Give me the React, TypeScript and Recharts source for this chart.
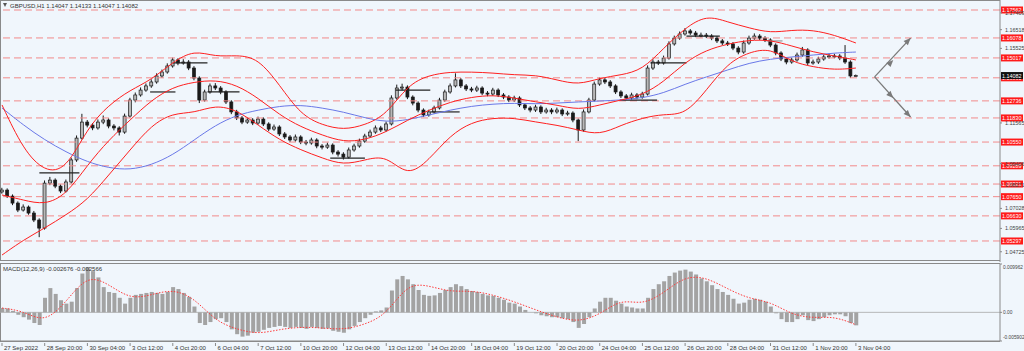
import React from "react";
import {
  ComposedChart,
  Bar,
  Line,
  XAxis,
  YAxis,
  ReferenceLine,
  ReferenceDot,
} from "recharts";

const FONT = "'Liberation Sans', Arial, sans-serif";

// ---------- price data (4-hour sampled candles, H1 chart 27 Sep - 3 Nov 2022) ----------
const CANDLE_STEP = 4; // hours per sampled candle
const firstOpen = 1.079;
const closes = [
  1.0800, 1.0768, 1.0731, 1.0694, 1.0710, 1.0678, 1.0641, 1.0598, 1.0837, 1.0853,
  1.0821, 1.0795, 1.0843, 1.0960, 1.1076, 1.1161, 1.1145, 1.1130, 1.1161, 1.1172,
  1.1140, 1.1130, 1.1108, 1.1193, 1.1278, 1.1305, 1.1331, 1.1353, 1.1374, 1.1406,
  1.1427, 1.1459, 1.1491, 1.1475, 1.1480, 1.1448, 1.1395, 1.1278, 1.1321, 1.1353,
  1.1342, 1.1321, 1.1268, 1.1215, 1.1183, 1.1161, 1.1172, 1.1156, 1.1177, 1.1151,
  1.1124, 1.1135, 1.1098, 1.1082, 1.1066, 1.1082, 1.1055, 1.1050, 1.1066, 1.1034,
  1.1028, 1.1039, 1.1002, 1.0991, 1.0975, 1.1013, 1.1034, 1.1060, 1.1087, 1.1108,
  1.1130, 1.1119, 1.1151, 1.1289, 1.1342, 1.1347, 1.1294, 1.1262, 1.1225, 1.1199,
  1.1215, 1.1236, 1.1278, 1.1321, 1.1353, 1.1385, 1.1353, 1.1337, 1.1331, 1.1342,
  1.1315, 1.1310, 1.1331, 1.1305, 1.1294, 1.1278, 1.1289, 1.1252, 1.1236, 1.1225,
  1.1241, 1.1215, 1.1225, 1.1215, 1.1225, 1.1204, 1.1209, 1.1172, 1.1119, 1.1215,
  1.1278, 1.1363, 1.1385, 1.1374, 1.1353, 1.1321, 1.1300, 1.1289, 1.1305, 1.1294,
  1.1310, 1.1448, 1.1480, 1.1475, 1.1501, 1.1576, 1.1607, 1.1629, 1.1645, 1.1634,
  1.1623, 1.1623, 1.1618, 1.1607, 1.1592, 1.1581, 1.1576, 1.1554, 1.1533, 1.1581,
  1.1607, 1.1618, 1.1607, 1.1597, 1.1570, 1.1528, 1.1496, 1.1480, 1.1491, 1.1517,
  1.1544, 1.1475, 1.1480, 1.1496, 1.1507, 1.1512, 1.1512, 1.1501, 1.1480, 1.1406,
  1.14082,
];
const highs = [
  1.0812, 1.0809, 1.0777, 1.0740, 1.0724, 1.0718, 1.0689, 1.0650, 1.0851, 1.0870,
  1.0862, 1.0830, 1.0856, 1.0972, 1.1090, 1.1205, 1.1172, 1.1156, 1.1175, 1.1196,
  1.1181, 1.1150, 1.1139, 1.1206, 1.1290, 1.1318, 1.1345, 1.1366, 1.1388, 1.1420,
  1.1440, 1.1473, 1.1503, 1.1500, 1.1495, 1.1490, 1.1458, 1.1404, 1.1333, 1.1366,
  1.1368, 1.1352, 1.1330, 1.1277, 1.1226, 1.1193, 1.1185, 1.1182, 1.1190, 1.1186,
  1.1160, 1.1148, 1.1144, 1.1108, 1.1092, 1.1095, 1.1091, 1.1066, 1.1078, 1.1075,
  1.1044, 1.1052, 1.1048, 1.1012, 1.1001, 1.1026, 1.1046, 1.1073, 1.1099, 1.1121,
  1.1143, 1.1141, 1.1164, 1.1303, 1.1360, 1.1365, 1.1356, 1.1303, 1.1271, 1.1234,
  1.1227, 1.1248, 1.1290, 1.1333, 1.1366, 1.1420, 1.1395, 1.1363, 1.1348, 1.1354,
  1.1351, 1.1326, 1.1343, 1.1340, 1.1315, 1.1304, 1.1301, 1.1298, 1.1262, 1.1246,
  1.1253, 1.1250, 1.1237, 1.1235, 1.1238, 1.1234, 1.1221, 1.1218, 1.1180, 1.1228,
  1.1290, 1.1376, 1.1398, 1.1396, 1.1384, 1.1362, 1.1330, 1.1310, 1.1317, 1.1315,
  1.1322, 1.1462, 1.1494, 1.1491, 1.1514, 1.1590, 1.1620, 1.1642, 1.1660, 1.1655,
  1.1645, 1.1636, 1.1634, 1.1628, 1.1617, 1.1602, 1.1592, 1.1586, 1.1564, 1.1594,
  1.1620, 1.1632, 1.1628, 1.1617, 1.1606, 1.1579, 1.1537, 1.1506, 1.1503, 1.1530,
  1.1560, 1.1553, 1.1493, 1.1508, 1.1519, 1.1525, 1.1524, 1.1522, 1.1570, 1.1489,
  1.14133,
];
const lows = [
  1.0781, 1.0758, 1.0720, 1.0683, 1.0686, 1.0669, 1.0630, 1.0550, 1.0590, 1.0826,
  1.0810, 1.0784, 1.0787, 1.0835, 1.0950, 1.1068, 1.1133, 1.1118, 1.1121, 1.1150,
  1.1128, 1.1117, 1.1090, 1.1099, 1.1185, 1.1266, 1.1296, 1.1322, 1.1343, 1.1365,
  1.1396, 1.1418, 1.1450, 1.1463, 1.1466, 1.1437, 1.1383, 1.1262, 1.1270, 1.1312,
  1.1331, 1.1309, 1.1257, 1.1203, 1.1172, 1.1150, 1.1152, 1.1145, 1.1147, 1.1140,
  1.1113, 1.1115, 1.1087, 1.1071, 1.1055, 1.1057, 1.1044, 1.1038, 1.1041, 1.1022,
  1.1016, 1.1019, 1.0990, 1.0978, 1.0962, 1.0968, 1.1004, 1.1025, 1.1051, 1.1078,
  1.1099, 1.1108, 1.1110, 1.1143, 1.1280, 1.1330, 1.1283, 1.1250, 1.1213, 1.1188,
  1.1190, 1.1206, 1.1228, 1.1269, 1.1312, 1.1345, 1.1342, 1.1326, 1.1320, 1.1321,
  1.1304, 1.1298, 1.1301, 1.1294, 1.1283, 1.1267, 1.1268, 1.1241, 1.1225, 1.1213,
  1.1215, 1.1204, 1.1206, 1.1203, 1.1206, 1.1193, 1.1195, 1.1160, 1.1060, 1.1110,
  1.1207, 1.1270, 1.1354, 1.1363, 1.1342, 1.1310, 1.1289, 1.1278, 1.1280, 1.1283,
  1.1285, 1.1302, 1.1438, 1.1464, 1.1466, 1.1493, 1.1567, 1.1598, 1.1620, 1.1624,
  1.1612, 1.1611, 1.1607, 1.1596, 1.1581, 1.1570, 1.1565, 1.1543, 1.1521, 1.1524,
  1.1572, 1.1598, 1.1596, 1.1586, 1.1559, 1.1516, 1.1485, 1.1468, 1.1471, 1.1482,
  1.1508, 1.1463, 1.1466, 1.1470, 1.1487, 1.1498, 1.1500, 1.1490, 1.1470, 1.1395,
  1.14047,
];

// ---------- indicator lines (sampled every 16 hours) ----------
const BAND_STEP = 16;
const bbUpper = [
  1.1252, 1.1013, 1.0896, 1.0907, 1.1130, 1.1252, 1.1331, 1.1385, 1.1480, 1.1544,
  1.1507, 1.1517, 1.1501, 1.1358, 1.1199, 1.1145, 1.1119, 1.1145, 1.1199, 1.1358,
  1.1411, 1.1427, 1.1427, 1.1422, 1.1411, 1.1411, 1.1385, 1.1358, 1.1395, 1.1411,
  1.1438, 1.1554, 1.1661, 1.1730, 1.1692, 1.1661, 1.1634, 1.1650, 1.1650, 1.1623,
  1.1581,
];
const bbMiddle = [
  1.0774, 1.0747, 1.0721, 1.0774, 1.0933, 1.1066, 1.1172, 1.1278, 1.1347, 1.1374,
  1.1385, 1.1358, 1.1289, 1.1199, 1.1135, 1.1092, 1.1055, 1.1066, 1.1108, 1.1172,
  1.1225, 1.1268, 1.1294, 1.1305, 1.1289, 1.1268, 1.1252, 1.1225, 1.1252, 1.1278,
  1.1305, 1.1374, 1.1480, 1.1544, 1.1576, 1.1597, 1.1597, 1.1565, 1.1533, 1.1512,
  1.1491,
];
const bbLower = [
  1.0455, 1.0535, 1.0598, 1.0668, 1.0747, 1.0880, 1.1013, 1.1145, 1.1209, 1.1209,
  1.1252, 1.1225, 1.1145, 1.1066, 1.1013, 1.0970, 1.0933, 1.0960, 1.0986, 1.0869,
  1.0960, 1.1092, 1.1161, 1.1183, 1.1183, 1.1161, 1.1145, 1.1119, 1.1092, 1.1145,
  1.1183, 1.1204, 1.1199, 1.1331, 1.1475, 1.1533, 1.1554, 1.1480, 1.1454, 1.1438,
  1.1448,
];
const slowMa = [
  1.1236, 1.1145, 1.1066, 1.1002, 1.0949, 1.0917, 1.0907, 1.0933, 1.0986, 1.1066,
  1.1145, 1.1199, 1.1225, 1.1246, 1.1252, 1.1236, 1.1215, 1.1183, 1.1161, 1.1172,
  1.1199, 1.1225, 1.1246, 1.1257, 1.1262, 1.1257, 1.1262, 1.1268, 1.1273, 1.1278,
  1.1289, 1.1315, 1.1363, 1.1401, 1.1438, 1.1475, 1.1496, 1.1507, 1.1517, 1.1528,
  1.1533,
];

// ---------- MACD(12,26,9) ----------
const macdHist = [
  0.0009, 0.0008, 0.0003, -0.0005, -0.0010, -0.0015, -0.0022, -0.0026, 0.0030, 0.0050,
  0.0038, 0.0025, 0.0018, 0.0022, 0.0050, 0.0080, 0.0093, 0.0085, 0.0072, 0.0052,
  0.0042, 0.0040, 0.0030, 0.0018, 0.0030, 0.0036, 0.0038, 0.0040, 0.0042, 0.0040,
  0.0038, 0.0042, 0.0052, 0.0048, 0.0040, 0.0032, 0.0012, -0.0022, -0.0026, -0.0020,
  -0.0014, -0.0012, -0.0020, -0.0035, -0.0045, -0.0050, -0.0048, -0.0042, -0.0040, -0.0036,
  -0.0032, -0.0030, -0.0028, -0.0030, -0.0032, -0.0030, -0.0032, -0.0034, -0.0030, -0.0032,
  -0.0034, -0.0033, -0.0038, -0.0040, -0.0042, -0.0035, -0.0028, -0.0020, -0.0012, -0.0005,
  0.0002, 0.0004, 0.0010, 0.0045, 0.0068, 0.0075, 0.0068, 0.0058, 0.0046, 0.0036,
  0.0034, 0.0035, 0.0040, 0.0046, 0.0052, 0.0058, 0.0054, 0.0048, 0.0044, 0.0042,
  0.0038, 0.0035, 0.0034, 0.0030, 0.0026, 0.0020, 0.0018, 0.0012, 0.0005, 0.0000,
  -0.0002, -0.0006, -0.0008, -0.0010, -0.0010, -0.0012, -0.0014, -0.0020, -0.0032, -0.0024,
  -0.0010, 0.0008, 0.0022, 0.0030, 0.0030, 0.0024, 0.0018, 0.0012, 0.0010, 0.0008,
  0.0008, 0.0030, 0.0048, 0.0058, 0.0064, 0.0075, 0.0082, 0.0086, 0.0088, 0.0084,
  0.0078, 0.0070, 0.0064, 0.0056, 0.0048, 0.0042, 0.0036, 0.0028, 0.0018, 0.0020,
  0.0026, 0.0028, 0.0026, 0.0022, 0.0012, -0.0002, -0.0014, -0.0020, -0.0020, -0.0014,
  -0.0006, -0.0016, -0.0018, -0.0014, -0.0010, -0.0006, -0.0004, -0.0004, -0.0008, -0.0022,
  -0.002676,
];
const macdSignal = [
  0.0009, 0.0003, -0.0022, 0.0021, 0.0078, 0.0058, 0.0027, 0.0036, 0.0048, 0.0030,
  -0.0018, -0.0035, -0.0045, -0.0035, -0.0030, -0.0032, -0.0036, -0.0025, -0.0005, 0.0060,
  0.0055, 0.0042, 0.0045, 0.0036, 0.0022, 0.0005, -0.0010, -0.0020, -0.0005, 0.0028,
  0.0015, 0.0040, 0.0075, 0.0072, 0.0048, 0.0028, 0.0022, -0.0005, -0.0012, -0.0008,
  -0.002566,
];

// ---------- levels, ticks, labels ----------
const levels = [
  1.17562, 1.16078, 1.15017, 1.13961, 1.12736, 1.1183, 1.1055, 1.09289, 1.08321, 1.0765,
  1.0663, 1.05297,
];
const levelText = [
  "1.17562", "1.16078", "1.15017", "1.13961", "1.12736", "1.11830", "1.10550", "1.09289",
  "1.08321", "1.07650", "1.06630", "1.05297",
];
const bidPrice = 1.14082;
const priceTicks = [1.17409, 1.16518, 1.15525, 1.11565, 1.09406, 1.08271, 1.07028, 1.05965, 1.04725];
const macdTicks = [0.009962, 0, -0.005902];
const TIME_STEP = 32;
const timeLabels = [
  "27 Sep 2022", "28 Sep 20:00", "30 Sep 04:00", "3 Oct 12:00", "4 Oct 20:00", "6 Oct 04:00",
  "7 Oct 12:00", "10 Oct 20:00", "12 Oct 04:00", "13 Oct 12:00", "14 Oct 20:00", "18 Oct 04:00",
  "19 Oct 12:00", "20 Oct 20:00", "24 Oct 04:00", "25 Oct 12:00", "26 Oct 20:00", "28 Oct 04:00",
  "31 Oct 12:00", "1 Nov 20:00", "3 Nov 04:00",
];
const pivotFrom = [28, 111, 128, 154, 246, 295, 321, 463, 486, 513, 573];
const pivotTo = [58, 130, 154, 178, 272, 321, 343, 491, 513, 538, 585];
const pivotPrice = [1.0891, 1.1321, 1.1475, 1.1321, 1.097, 1.1331, 1.1215, 1.1278, 1.1475, 1.1618, 1.1592];
const arrowStart = { i: 654, p: 1.1401 };
const arrowUpMid = { i: 668, p: 1.1491 };
const arrowUpEnd = { i: 681, p: 1.1607 };
const arrowDnMid = { i: 668, p: 1.1289 };
const arrowDnEnd = { i: 681, p: 1.1188 };

const X_DOMAIN: [number, number] = [-1.5, 748];
const PRICE_DOMAIN: [number, number] = [1.04181, 1.18093];
const MACD_DOMAIN: [number, number] = [-0.005902, 0.009962];

// ---------- tables built from the arrays ----------
const candleData = closes.map((c, k) => ({
  i: k * CANDLE_STEP,
  o: k === 0 ? firstOpen : closes[k - 1],
  c,
  h: highs[k],
  l: lows[k],
}));
const toSeries = (arr: number[], step: number) => arr.map((v, j) => ({ i: j * step, v }));
const upperData = toSeries(bbUpper, BAND_STEP);
const middleData = toSeries(bbMiddle, BAND_STEP);
const lowerData = toSeries(bbLower, BAND_STEP);
const maData = toSeries(slowMa, BAND_STEP);
const histData = macdHist.map((v, k) => ({ i: k * CANDLE_STEP, v }));
const signalData = toSeries(macdSignal, BAND_STEP);
const timeTicks = timeLabels.map((_, j) => j * TIME_STEP);

const BG = "#f0f6fc";
const AXIS = "#8a8a8a";

const Candle = (props: any) => {
  const { x, y, width, height } = props;
  const d = props.payload || props;
  if (x == null || y == null) return null;
  const span = d.h - d.l || 1e-9;
  const top = y + ((d.h - Math.max(d.o, d.c)) / span) * height;
  const bot = y + ((d.h - Math.min(d.o, d.c)) / span) * height;
  const cx = x + width / 2;
  const bull = d.c >= d.o;
  return (
    <g>
      <line x1={cx} x2={cx} y1={y} y2={y + height} stroke="#1a1a1a" strokeWidth={1} />
      <rect
        x={x}
        y={top}
        width={width}
        height={Math.max(bot - top, 1)}
        fill={bull ? "#b8b8b8" : "#1a1a1a"}
        stroke="#1a1a1a"
        strokeWidth={0.7}
      />
    </g>
  );
};

const PriceTag = (props: any) => {
  const vb = props.viewBox || {};
  const x = (vb.x || 0) + (vb.width || 0);
  const y = vb.y || 0;
  return (
    <g>
      <rect x={x + 1} y={y - 3.5} width={22} height={7} fill={props.bg} />
      <text
        x={x + 2}
        y={y + 2}
        fontSize={5.6}
        fill={props.fg}
        fontFamily={FONT}
        textLength={19.5}
        lengthAdjust="spacingAndGlyphs"
      >
        {props.text}
      </text>
    </g>
  );
};

const PriceTick = (props: any) => {
  const { x, y, payload } = props;
  return (
    <text
      x={x + 1}
      y={y + 2}
      fontSize={5.6}
      fill="#444"
      fontFamily={FONT}
      textLength={19.5}
      lengthAdjust="spacingAndGlyphs"
    >
      {payload.value.toFixed(5)}
    </text>
  );
};

const MacdTick = (props: any) => {
  const { x, y, payload } = props;
  const v = payload.value;
  const dy = v > 0.005 ? 5 : v < -0.005 ? -2 : 2;
  const txt = v === 0 ? "0.00" : v.toFixed(6);
  return (
    <text x={x - 1} y={y + dy} fontSize={4.8} fill="#444" fontFamily={FONT}>
      {txt}
    </text>
  );
};

const TimeTick = (props: any) => {
  const { x, y, payload } = props;
  const idx = Math.round(payload.value / TIME_STEP);
  return (
    <g>
      <line x1={x} x2={x} y1={y} y2={y + 3} stroke={AXIS} strokeWidth={1} />
      <text x={x + 2} y={y + 7} fontSize={6} fill="#333" fontFamily={FONT}>
        {timeLabels[idx]}
      </text>
    </g>
  );
};

const ArrowHead = ({ cx, cy, angle }: any) => {
  if (cx == null || cy == null) return null;
  return (
    <polygon
      points="0,0 -7,-3 -7,3"
      fill="#7a7a7a"
      transform={`translate(${cx},${cy}) rotate(${angle})`}
    />
  );
};

export default function App() {
  return (
    <div
      style={{
        position: "absolute",
        left: 0,
        top: 0,
        width: 1024,
        height: 351,
        background: BG,
        overflow: "hidden",
        fontFamily: FONT,
      }}
    >
      {/* panel frames */}
      <div style={{ position: "absolute", left: 0, top: 0, width: 1000, height: 261, border: `1px solid ${AXIS}`, borderRight: "none", boxSizing: "border-box" }} />
      <div style={{ position: "absolute", left: 0, top: 263, width: 1000, height: 79, border: `1px solid ${AXIS}`, borderRight: "none", boxSizing: "border-box" }} />

      <div style={{ position: "absolute", left: 0, top: 0 }}>
        <ComposedChart width={1024} height={262} data={candleData} margin={{ top: 0, right: 0, bottom: 0, left: 0 }}>
          <XAxis dataKey="i" type="number" domain={X_DOMAIN} allowDataOverflow hide />
          <YAxis
            yAxisId={0}
            orientation="right"
            type="number"
            domain={PRICE_DOMAIN}
            allowDataOverflow
            ticks={priceTicks}
            interval={0}
            width={24}
            axisLine={{ stroke: AXIS }}
            tickLine={{ stroke: AXIS }}
            tickSize={2}
            tick={<PriceTick />}
          />
          {levels.map((lv, j) => (
            <ReferenceLine
              key={"lv" + j}
              y={lv}
              stroke="#f28a8a"
              strokeWidth={1}
              strokeDasharray="7 4"
              label={<PriceTag text={levelText[j]} bg="#ff1a1a" fg="#ffffff" />}
            />
          ))}
          <ReferenceLine
            y={bidPrice}
            stroke="none"
            label={<PriceTag text="1.14082" bg="#111111" fg="#ffffff" />}
          />
          {pivotFrom.map((f, j) => (
            <ReferenceLine
              key={"pv" + j}
              segment={[
                { x: f, y: pivotPrice[j] },
                { x: pivotTo[j], y: pivotPrice[j] },
              ]}
              stroke={j === pivotFrom.length - 1 ? "#9a9a9a" : "#222"}
              strokeWidth={1.2}
            />
          ))}
          <Line data={maData} dataKey="v" type="basis" stroke="#6a78e8" strokeWidth={1} dot={false} isAnimationActive={false} />
          <Line data={upperData} dataKey="v" type="basis" stroke="#ff2020" strokeWidth={1} dot={false} isAnimationActive={false} />
          <Line data={middleData} dataKey="v" type="basis" stroke="#ff2020" strokeWidth={1} dot={false} isAnimationActive={false} />
          <Line data={lowerData} dataKey="v" type="basis" stroke="#ff2020" strokeWidth={1} dot={false} isAnimationActive={false} />
          <Bar
            dataKey={(d: any) => [d.l, d.h]}
            barSize={3}
            shape={<Candle />}
            isAnimationActive={false}
          />
          <ReferenceLine
            segment={[
              { x: arrowStart.i, y: arrowStart.p },
              { x: arrowUpEnd.i, y: arrowUpEnd.p },
            ]}
            stroke="#7a7a7a"
            strokeWidth={1.3}
          />
          <ReferenceLine
            segment={[
              { x: arrowStart.i, y: arrowStart.p },
              { x: arrowDnEnd.i, y: arrowDnEnd.p },
            ]}
            stroke="#7a7a7a"
            strokeWidth={1.3}
          />
          <ReferenceDot x={arrowUpMid.i} y={arrowUpMid.p} r={1} shape={(p: any) => <ArrowHead cx={p.cx} cy={p.cy} angle={-46} />} />
          <ReferenceDot x={arrowUpEnd.i} y={arrowUpEnd.p} r={1} shape={(p: any) => <ArrowHead cx={p.cx} cy={p.cy} angle={-46} />} />
          <ReferenceDot x={arrowDnMid.i} y={arrowDnMid.p} r={1} shape={(p: any) => <ArrowHead cx={p.cx} cy={p.cy} angle={46} />} />
          <ReferenceDot x={arrowDnEnd.i} y={arrowDnEnd.p} r={1} shape={(p: any) => <ArrowHead cx={p.cx} cy={p.cy} angle={46} />} />
        </ComposedChart>
      </div>

      <div style={{ position: "absolute", left: 0, top: 262 }}>
        <ComposedChart width={1024} height={89} data={histData} margin={{ top: 2, right: 0, bottom: 0, left: 0 }}>
          <XAxis
            dataKey="i"
            type="number"
            domain={X_DOMAIN}
            allowDataOverflow
            ticks={timeTicks}
            interval={0}
            height={10}
            axisLine={{ stroke: AXIS }}
            tickLine={false}
            tickSize={0}
            tick={<TimeTick />}
          />
          <YAxis
            orientation="right"
            type="number"
            domain={MACD_DOMAIN}
            allowDataOverflow
            ticks={macdTicks}
            interval={0}
            width={24}
            axisLine={{ stroke: AXIS }}
            tickLine={{ stroke: AXIS }}
            tickSize={2}
            tick={<MacdTick />}
          />
          <ReferenceLine y={0} stroke="#a8a8a8" strokeWidth={0.8} />
          <Bar dataKey="v" barSize={4} fill="#a3a3a3" isAnimationActive={false} />
          <Line
            data={signalData}
            dataKey="v"
            type="basis"
            stroke="#ff3b3b"
            strokeWidth={1}
            strokeDasharray="1.5 1.5"
            dot={false}
            isAnimationActive={false}
          />
        </ComposedChart>
      </div>

      {/* header texts */}
      <svg style={{ position: "absolute", left: 0, top: 0 }} width={400} height={12}>
        <polygon points="3,3 7,3 5,7" fill="#555" />
        <text x={10} y={8} fontSize={6} fill="#333" fontFamily={FONT}>
          GBPUSD,H1  1.14047 1.14133 1.14047 1.14082
        </text>
      </svg>
      <svg style={{ position: "absolute", left: 0, top: 264 }} width={400} height={12}>
        <text x={3} y={7} fontSize={6} fill="#333" fontFamily={FONT}>
          MACD(12,26,9) -0.002676 -0.002566
        </text>
      </svg>
    </div>
  );
}
